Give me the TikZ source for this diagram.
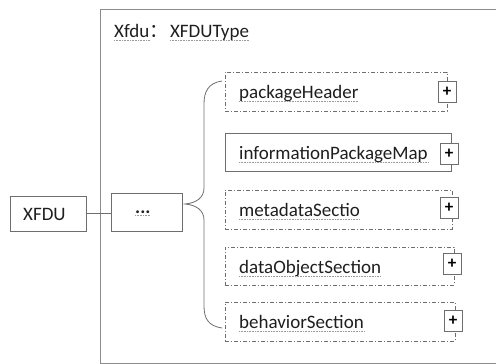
\documentclass[tikz,border=0pt]{standalone}
\usepackage{fontspec}
\setmainfont{Carlito}
\newfontfamily\cjk{Noto Sans CJK SC}
\usetikzlibrary{positioning}
\definecolor{frameGray}{HTML}{8C8C8C}
\definecolor{boxGray}{HTML}{6E6E6E}
\definecolor{waveGray}{HTML}{9A9A9A}
\definecolor{inkGray}{HTML}{1E1E1E}

\begin{document}
\begin{tikzpicture}[x=1pt,y=-1pt,font=\fontsize{19}{23}\selectfont,
          el/.style={draw=boxGray,line width=0.8pt,minimum height=39pt,inner sep=0},
          opt/.style={el,dash pattern=on 4pt off 2pt on 1pt off 2pt},
          lbl/.style={inner sep=0,anchor=base west,text=inkGray},
          plusbox/.style={draw=boxGray,fill=white,line width=0.8pt,minimum width=18pt,
                          minimum height=21pt,inner sep=0,font=\fontsize{17}{18}\selectfont\bfseries},
          ul/.style={waveGray,line width=0.8pt,dash pattern=on 0.8pt off 0.8pt},
          ln/.style={boxGray,line width=0.8pt}]
        \useasboundingbox (0,0) rectangle (496,364);

        % outer type frame
        \draw[frameGray,line width=0.8pt] (498,9) -- (100,9) -- (100,363) -- (498,363);
        \node[lbl] (xf) at (114,37) {Xfdu};
        \node[lbl] (col) at (xf.base east) {\cjk ：};
        \node[lbl] (xft) at ([xshift=1pt]col.base east) {XFDUType};
        \draw[ul] ([yshift=-3pt]xf.base west) -- ([yshift=-3pt]xf.base east);
        \draw[ul] ([yshift=-3pt]xft.base west) -- ([yshift=-3pt]xft.base east);

        % root and sequence
        \node[el,minimum width=76pt,minimum height=35pt] (xfdu) at (48,213.5) {};
        \node[lbl] (xfdut) at (23,220) {XFDU};
        \node[el,minimum width=71pt,minimum height=38pt] (seq) at (146.5,212) {};
        \node[lbl] (seqt) at (135,213) {\bfseries...};
        \draw[ul] ([yshift=-2pt]seqt.base west) -- ([yshift=-2pt]seqt.base east);
        \draw[ln] (xfdu.east) -- (xfdu.east -| seq.west);

        % child elements
        \node[opt,minimum width=222pt] (ph) at (336,91.5) {};
        \node[el,minimum width=226pt,minimum height=38pt] (ipm) at (338,152) {};
        \node[opt,minimum width=227pt] (md) at (338.5,209.5) {};
        \node[opt,minimum width=229pt,minimum height=38pt] (dos) at (339.5,266) {};
        \node[opt,minimum width=230pt] (bs) at (340,321.5) {};

        \node[lbl] (pht) at (239,98.5) {packageHeader};
        \node[lbl] (ipmt) at (239,159) {informationPackageMap};
        \node[lbl] (mdt) at (239,216.5) {metadataSectio};
        \node[lbl] (dost) at (239,273) {dataObjectSection};
        \node[lbl] (bst) at (239,328.5) {behaviorSection};
        \draw[ul] ([yshift=-3pt]pht.base west) -- ([yshift=-3pt]pht.base east);
        \draw[ul] ([yshift=-3pt]ipmt.base west) -- ([yshift=-3pt]ipmt.base east);
        \draw[ul] ([yshift=-3pt]mdt.base west) -- ([yshift=-3pt]mdt.base east);
        \draw[ul] ([yshift=-3pt]dost.base west) -- ([yshift=-3pt]dost.base east);
        \draw[ul] ([yshift=-3pt]bst.base west) -- ([yshift=-3pt]bst.base east);

        \node[plusbox] (php) at (447,92) {+};
        \node[plusbox] (ipmp) at (449,154) {+};
        \node[plusbox] (mdp) at (449,208) {+};
        \node[plusbox] (dosp) at (452,264) {+};
        \node[plusbox] (bsp) at (453,321) {+};

        % sequence brace
        \draw[ln] (222,81) .. controls (208,83) and (204,92) .. (204,104) -- (204,188)
          .. controls (204,198) and (196,203) .. (185,204)
          .. controls (196,205) and (204,210) .. (204,220) -- (204,306)
          .. controls (204,318) and (208,326) .. (222,328);
      \end{tikzpicture}
\end{document}
